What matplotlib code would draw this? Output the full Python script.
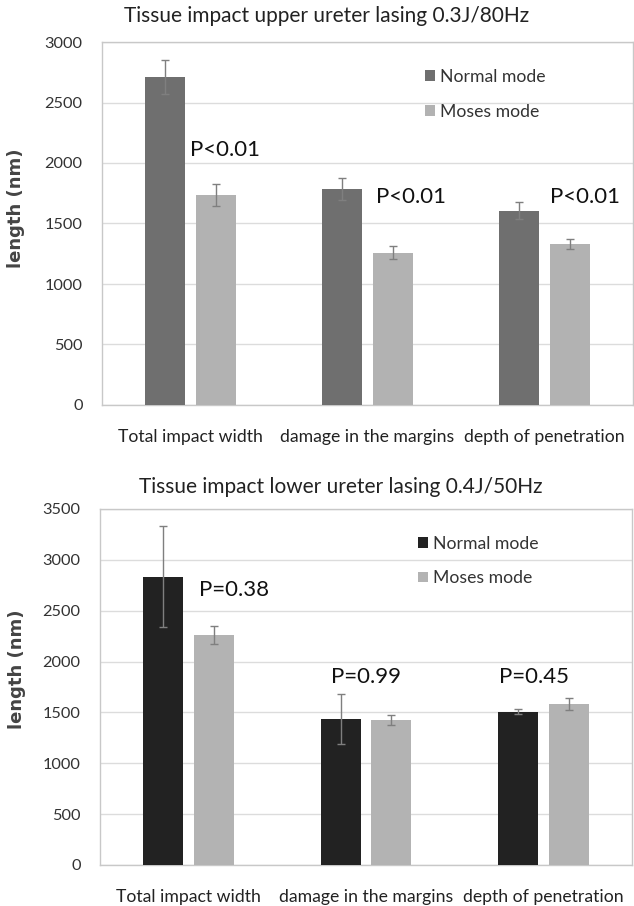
import matplotlib
matplotlib.use('Agg')
import matplotlib.pyplot as plt
import numpy as np

plt.rcParams['font.family'] = ['Lato', 'DejaVu Sans']

categories = ['Total impact width', 'damage in the margins', 'depth of penetration']
series = ['Normal mode', 'Moses mode']

# upper ureter, 0.3J/80Hz
upper_normal = [2710, 1787, 1607]
upper_normal_err = [140, 90, 70]
upper_moses = [1737, 1260, 1332]
upper_moses_err = [90, 55, 40]
upper_p = ['P<0.01', 'P<0.01', 'P<0.01']
upper_p_pos = [(0.0, 2107), (1.05, 1719), (2.03, 1719)]

# lower ureter, 0.4J/50Hz
lower_normal = [2836, 1436, 1508]
lower_normal_err = [500, 250, 25]
lower_moses = [2264, 1426, 1581]
lower_moses_err = [90, 45, 60]
lower_p = ['P=0.38', 'P=0.99', 'P=0.45']
lower_p_pos = [(0.06, 2704), (0.80, 1848), (1.75, 1848)]

W, H = 634, 906
fig = plt.figure(figsize=(W / 100, H / 100), dpi=100)


def px_axes(left, top, right, bottom):
    return fig.add_axes([left / W, 1 - bottom / H, (right - left) / W, (bottom - top) / H])


def draw(ax, normal, normal_err, moses, moses_err, colors, ymax, p_labels, p_pos, title, title_x, title_y,
         legend_xy, ylabel_xy):
    x = np.arange(len(categories))
    off = 0.143
    w = 0.225
    ax.bar(x - off, normal, w, color=colors[0], label=series[0], zorder=3)
    ax.bar(x + off, moses, w, color=colors[1], label=series[1], zorder=3)
    ax.errorbar(x - off, normal, yerr=normal_err, fmt='none', ecolor='#7f7f7f',
                elinewidth=1, capsize=3, capthick=1, zorder=4)
    ax.errorbar(x + off, moses, yerr=moses_err, fmt='none', ecolor='#7f7f7f',
                elinewidth=1, capsize=3, capthick=1, zorder=4)
    ax.set_xlim(-0.5, 2.5)
    ax.set_ylim(0, ymax)
    ax.set_yticks(range(0, ymax + 1, 500))
    ax.set_xticks(x)
    ax.set_xticklabels(categories, fontsize=12.7, color='#222222')
    ax.tick_params(axis='y', labelsize=11.8, labelcolor='#333333', length=0, pad=14)
    ax.tick_params(axis='x', length=0, pad=17)
    ax.yaxis.grid(True, color='#dcdcdc', linewidth=1, zorder=0)
    ax.set_axisbelow(True)
    for s in ax.spines.values():
        s.set_color('#c8c8c8')
        s.set_linewidth(1)
    ax.set_ylabel('length (nm)', fontsize=13, fontweight='bold', color='#444444',
                  family='DejaVu Sans')
    ax.yaxis.set_label_coords(*ylabel_xy)
    for label, (px, py) in zip(p_labels, p_pos):
        ax.text(px, py, label, fontsize=16, color='#111111', va='center', ha='left', zorder=5)
    fig.text(title_x / W, 1 - title_y / H, title, fontsize=15, color='#222222', ha='center', va='center')
    leg = ax.legend(loc='upper left', bbox_to_anchor=legend_xy, frameon=False, fontsize=12.7,
                    handlelength=0.55, handleheight=0.55, handletextpad=0.3, labelspacing=1.05,
                    borderaxespad=0)
    for t in leg.get_texts():
        t.set_color('#333333')


ax1 = px_axes(102, 42, 633, 405)
draw(ax1, upper_normal, upper_normal_err, upper_moses, upper_moses_err,
     ['#6f6f6f', '#b2b2b2'], 3000, upper_p, upper_p_pos,
     'Tissue impact upper ureter lasing 0.3J/80Hz', 327, 16, (0.595, 0.945), (-0.145, 0.543))

ax2 = px_axes(100, 509, 632, 865)
draw(ax2, lower_normal, lower_normal_err, lower_moses, lower_moses_err,
     ['#222222', '#b3b3b3'], 3500, lower_p, lower_p_pos,
     'Tissue impact lower ureter lasing 0.4J/50Hz', 341, 487, (0.585, 0.945), (-0.139, 0.55))

fig.savefig('out.png', dpi=100)
